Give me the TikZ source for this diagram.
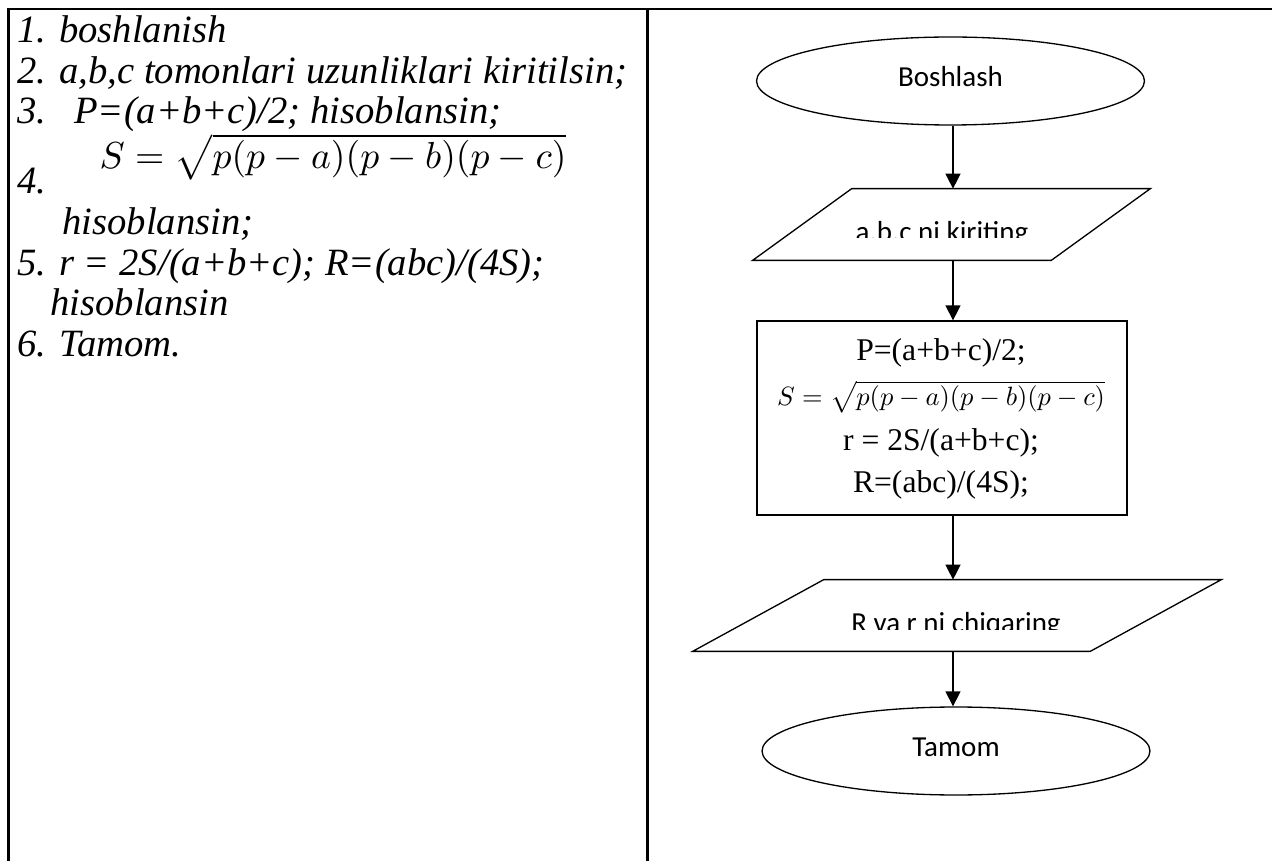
\documentclass[tikz,border=0pt]{standalone}
\usepackage{fontspec}
\setmainfont{Liberation Serif}
\newfontfamily\calibri{Carlito}
\usepackage{graphicx}
\usetikzlibrary{positioning, shapes.geometric, arrows.meta, calc}

\begin{document}
\begin{tikzpicture}[
  x=0.02cm, y=-0.02cm,
  terminal/.style={ellipse, draw, line width=0.75pt, minimum width=7.76cm, minimum height=1.76cm, inner sep=0pt, font=\calibri\fontsize{16.5}{20}\selectfont, text height=0.4cm, text depth=0.16cm},
  iobox/.style={rectangle, inner sep=0pt, minimum height=1.42cm},
  iotext/.style={font=\calibri\fontsize{16.5}{20}\selectfont, inner sep=0pt, anchor=base},
  procbox/.style={rectangle, draw, line width=0.75pt, minimum width=7.4cm, minimum height=3.88cm, inner sep=0pt},
  proctext/.style={font=\fontsize{18}{22}\selectfont, inner sep=0pt, anchor=base},
  steptext/.style={font=\itshape\fontsize{22}{26}\selectfont, inner sep=0pt, anchor=base west},
  formula/.style={inner sep=0pt, anchor=center},
  arr/.style={-{Triangle[length=0.3cm, width=0.3cm]}, line width=0.75pt},
  frame/.style={line width=1.3pt},
  shapeline/.style={line width=0.75pt, line join=miter}
]
  \useasboundingbox (0,0) rectangle (1272,861);

  % Table
  \draw[frame] (8.5,861) -- (8.5,9) -- (1272,9);
  \draw[frame] (647.5,9) -- (647.5,861);

  % Left column: steps
  \node[steptext] (s1) at (17,43) {1. boshlanish};
  \node[steptext] (s2) at (17,84) {2. a,b,c tomonlari uzunliklari kiritilsin;};
  \node[steptext] (s3) at (17,124) {3.};
  \node[steptext] (s3b) at (74,124) {P=(a+b+c)/2; hisoblansin;};
  \node[formula] (s4f) at (333,157) {\resizebox{9.34cm}{!}{$S=\sqrt{p(p-a)(p-b)(p-c)}$}};
  \node[steptext] (s4) at (17,194) {4.};
  \node[steptext] (s4b) at (62,235) {hisoblansin;};
  \node[steptext] (s5) at (17,276) {5. r = 2S/(a+b+c); R=(abc)/(4S);};
  \node[steptext] (s5b) at (50,316) {hisoblansin};
  \node[steptext] (s6) at (17,357) {6. Tamom.};

  % Right column: flowchart
  \coordinate (spine) at (953,0);

  \node[terminal] (start) at (950.5,81) {Boshlash};

  \node[iobox, minimum width=5.96cm] (inp) at (951.5,224.5) {};
  \draw[shapeline] ($(inp.north west)+(49.5,0)$) -- ($(inp.north east)+(49.5,0)$)
    -- ($(inp.south east)+(-49.5,0)$) -- ($(inp.south west)+(-49.5,0)$) -- cycle;
  \begin{scope}
    \clip ($(inp.north west)+(-60,0)$) rectangle ($(inp.east)+(60,13.5)$);
    \node[iotext] (inptext) at (942,242) {a.b.c ni kiriting};
  \end{scope}

  \node[procbox] (calc) at (942,418) {};
  \node[proctext] (c1) at (941,361) {P=(a+b+c)/2;};
  \node[formula] (c2) at (941,397) {\resizebox{6.56cm}{!}{$S=\sqrt{p(p-a)(p-b)(p-c)}$}};
  \node[proctext] (c3) at (941,451) {r = 2S/(a+b+c);};
  \node[proctext] (c4) at (941,493) {R=(abc)/(4S);};

  \node[iobox, minimum width=7.94cm] (out) at (957,615.5) {};
  \draw[shapeline] ($(out.north west)+(65.5,0)$) -- ($(out.north east)+(65.5,0)$)
    -- ($(out.south east)+(-65.5,0)$) -- ($(out.south west)+(-65.5,0)$) -- cycle;
  \begin{scope}
    \clip ($(out.north west)+(-70,0)$) rectangle ($(out.east)+(70,14)$);
    \node[iotext] (outtext) at (956,632) {R va r ni chiqaring};
  \end{scope}

  \node[terminal] (stop) at (956,751) {Tamom};

  \draw[arr] (spine |- start.south) -- (spine |- inp.north);
  \draw[arr] (spine |- inp.south) -- (spine |- calc.north);
  \draw[arr] (spine |- calc.south) -- (spine |- out.north);
  \draw[arr] (spine |- out.south) -- (spine |- stop.north);
\end{tikzpicture}
\end{document}
